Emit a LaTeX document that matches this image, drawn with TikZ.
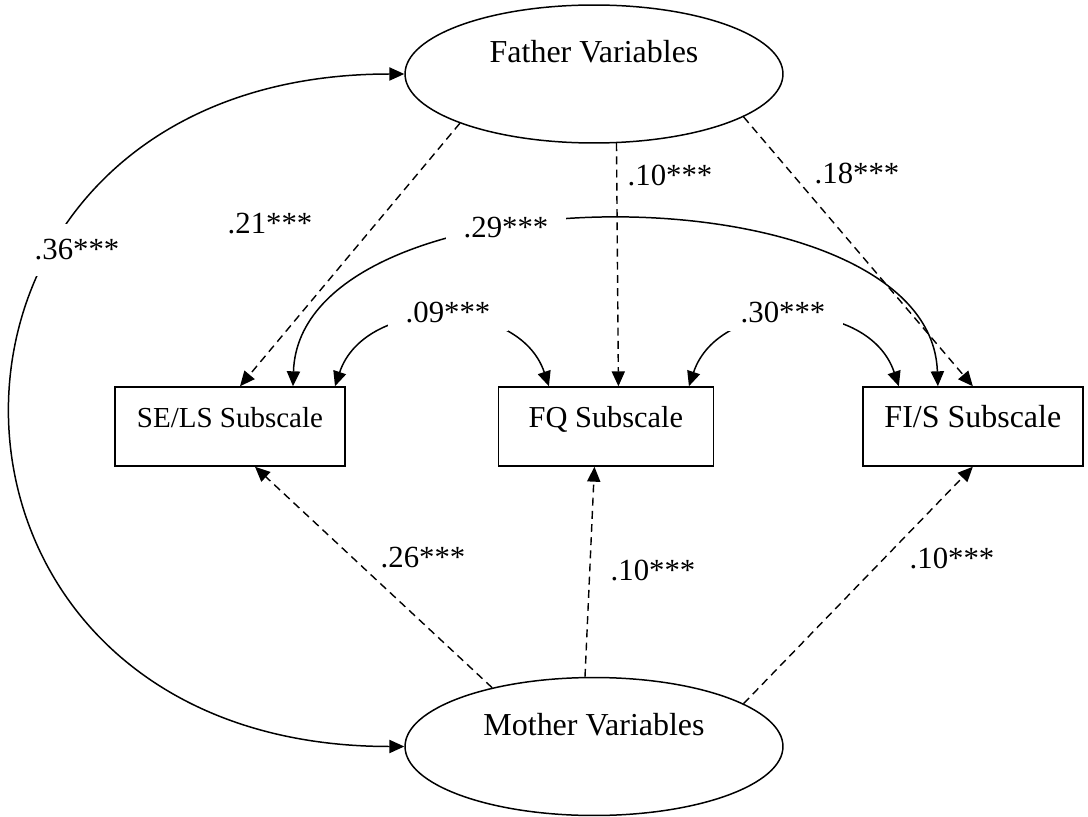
\documentclass[tikz,border=0pt]{standalone}
\usepackage{fontspec}
\setmainfont{Liberation Serif}
\usetikzlibrary{shapes.geometric, arrows.meta, positioning, calc}

\begin{document}
\begin{tikzpicture}[
    x=0.02cm, y=-0.02cm,
    >={Triangle[length=8.5pt, width=7.5pt]},
    every node/.style={font=\fontsize{18.2}{22}\selectfont},
    latentvar/.style={ellipse, draw, line width=0.85pt, minimum width=7.56cm,
        minimum height=2.76cm, inner sep=0pt, text height=0.45cm, text depth=0.9cm},
    subbox/.style={rectangle, draw, line width=0.85pt, minimum height=1.58cm,
        inner sep=0pt, text height=0.45cm, text depth=0.42cm},
    patharrow/.style={->, line width=0.8pt, dash pattern=on 4.5pt off 3pt},
    covarrow/.style={<->, line width=0.85pt},
    coef/.style={font=\fontsize{17.5}{21}\selectfont, inner sep=1pt},
    covcoef/.style={coef, fill=white, inner xsep=10pt, inner ysep=5pt},
]
\useasboundingbox (0,0) rectangle (1088,817);

% === LATENT VARIABLES ===
\node[latentvar] (father) at (594,74) {Father Variables};
\node[latentvar] (mother) at (594,746.5) {Mother Variables};

% === SUBSCALES ===
\node[subbox, minimum width=4.6cm, font=\fontsize{16.5}{20}\selectfont] (sels) at (230,426.5) {SE/LS Subscale};
\node[subbox, minimum width=4.3cm, right=3.04cm of sels, font=\fontsize{17.3}{21}\selectfont] (fq) {FQ Subscale};
\node[subbox, minimum width=4.4cm, right=2.96cm of fq] (fis) {FI/S Subscale};

% === PATHS ===
% Father to subscales
\draw[patharrow] (father.south west) -- ($(sels.north)+(10,0)$);
\draw[patharrow] (father.-72) -- ($(fq.north)+(12.5,0)$);
\draw[patharrow] (father.-16) -- (fis.north);

% Mother to subscales
\draw[patharrow] (mother.150) -- ($(sels.south)+(25,0)$);
\draw[patharrow] ($(mother.north)+(-9,0)$) -- ($(fq.south)+(-11.5,0)$);
\draw[patharrow] (mother.16) -- (fis.south);

% === COVARIANCES ===
\draw[covarrow] (father.west) .. controls +(-523,0) and +(-523,0) .. (mother.west);
\draw[covarrow] ($(sels.north)+(63,0)$) .. controls +(7,-221) and +(-7,-221) .. ($(fis.north)+(-35,0)$);
\draw[covarrow] ($(sels.north)+(105,0)$) .. controls +(30,-90) and +(-30,-90) .. ($(fq.north)+(-57,0)$);
\draw[covarrow] ($(fq.north)+(83,0)$) .. controls +(30,-90) and +(-30,-90) .. ($(fis.north)+(-74,0)$);

% Covariance labels
\node[covcoef, inner ysep=9pt] (c36) at (77,250) {.36***};
\node[covcoef] (c29) at (506,228) {.29***};
\node[covcoef] (c09) at (448,312) {.09***};
\node[covcoef] (c30) at (783,312) {.30***};

% Path labels
\node[coef] (f21) at (270,224) {.21***};
\node[coef] (f10) at (670,175) {.10***};
\node[coef] (f18) at (857,173) {.18***};
\node[coef] (m26) at (423,558) {.26***};
\node[coef] (m10) at (653,570) {.10***};
\node[coef] (m10b) at (952,558) {.10***};

\end{tikzpicture}
\end{document}
